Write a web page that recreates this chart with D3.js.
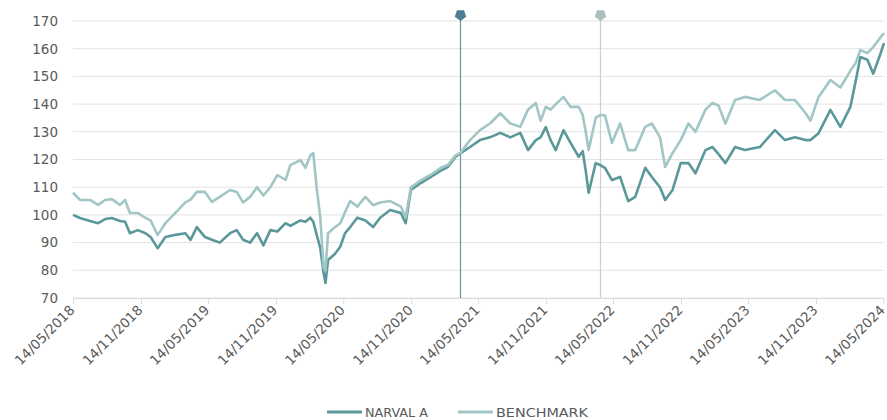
<!DOCTYPE html>
<html>
<head>
<meta charset="utf-8">
<script src="https://cdn.jsdelivr.net/npm/d3@7"></script>
<style>
  body { margin: 0; background: #fff; }
  svg { display: block; }
  .tick-label { font-family: "DejaVu Sans", Verdana, sans-serif; font-size: 13.5px; fill: #5a5a5a; }
  .legend-label { font-family: "DejaVu Sans", Verdana, sans-serif; font-size: 13px; fill: #5a5a5a; }
</style>
</head>
<body>
<svg width="887" height="420"></svg>
<script>
// Dates (roughly monthly, with extra points at turns)
const dates = [
  "2018-05-14","2018-06-02","2018-06-29","2018-07-21","2018-08-09","2018-08-27","2018-09-18","2018-10-02",
  "2018-10-15","2018-11-05","2018-11-26","2018-12-10","2018-12-29","2019-01-19","2019-02-15","2019-03-14",
  "2019-03-28","2019-04-14","2019-05-06","2019-05-25","2019-06-15","2019-07-13","2019-07-31","2019-08-17",
  "2019-09-05","2019-09-24","2019-10-11","2019-10-30","2019-11-18","2019-12-10","2019-12-23","2020-01-19",
  "2020-02-02","2020-02-15","2020-02-23","2020-03-03","2020-03-13","2020-03-22","2020-03-27","2020-04-03",
  "2020-04-22","2020-05-06","2020-05-19","2020-06-02","2020-06-21","2020-07-13","2020-08-03","2020-08-22",
  "2020-09-18","2020-10-17","2020-10-30","2020-11-13","2020-12-10","2021-01-06","2021-02-02","2021-02-21",
  "2021-03-14","2021-03-28","2021-04-22","2021-05-19","2021-06-15","2021-07-13","2021-08-09","2021-09-05",
  "2021-09-26","2021-10-17","2021-10-30","2021-11-13","2021-11-26","2021-12-10","2021-12-31","2022-01-19",
  "2022-02-10","2022-02-21","2022-03-01","2022-03-09","2022-03-28","2022-04-09","2022-04-22","2022-05-11",
  "2022-06-02","2022-06-24","2022-07-13","2022-08-09","2022-08-27","2022-09-18","2022-10-02","2022-10-22",
  "2022-11-13","2022-12-04","2022-12-23","2023-01-19","2023-02-07","2023-02-23","2023-03-14","2023-04-09",
  "2023-05-06","2023-06-15","2023-07-26","2023-08-22","2023-09-18","2023-10-17","2023-10-30","2023-11-21",
  "2023-12-23","2024-01-19","2024-02-15","2024-03-01","2024-03-13","2024-04-01","2024-04-17","2024-05-06",
  "2024-05-16"
];

const narvalA = [
  100, 98.9, 97.8, 97, 98.5, 98.9, 97.8, 97.5,
  93.4, 94.5, 93.4, 92, 88, 92, 92.8, 93.4,
  91, 95.6, 92, 91, 90, 93.4, 94.5, 91,
  90, 93.4, 89, 94.5, 94, 97, 96, 98,
  97.5, 99, 97.5, 93, 88, 79, 75.4, 83.7,
  86, 88.5, 93.4, 95.6, 99, 98, 95.6, 99,
  101.8, 100.7, 97, 109, 111.5, 113.7, 116, 117.3,
  121, 122.3, 124.5, 127, 128, 129.6, 128, 129.6,
  123.4, 127, 128, 131.7, 127, 123.4, 130.6, 126,
  121, 123, 116, 108, 118.7, 118, 117, 112.6,
  113.7, 105, 106.5, 117, 113.7, 110, 105.4, 109,
  118.7, 118.7, 115, 123.4, 124.5, 122, 118.7, 124.5,
  123.4, 124.5, 130.6, 127, 128, 127, 127, 129.5,
  137.9, 131.8, 139, 148.7, 157, 156, 151, 158,
  162
];

const benchmark = [
  108, 105.4, 105.4, 103.6, 105.4, 105.7, 103.6, 105.4,
  100.7, 100.7, 98.9, 98, 92.7, 97, 100.7, 104.5,
  105.5, 108.3, 108.3, 104.7, 106.5, 109, 108.3, 104.5,
  106.5, 110, 107, 110, 114.4, 112.6, 118, 119.8,
  117, 121.5, 122.3, 110, 99, 81, 80, 93.4,
  95.6, 97, 101, 105, 103, 106.5, 103.5, 104.5,
  105, 103, 99, 110, 112.5, 114.5, 117, 118,
  121.5, 122.5, 127, 130.6, 133, 136.7, 133, 131.8,
  138, 140.4, 134, 139, 138, 140, 142.6, 139,
  139, 136, 130, 123.4, 135, 136, 136, 126,
  133, 123.4, 123.4, 131.8, 133, 128, 117.3, 122.3,
  127, 133, 130, 138, 140.4, 139.5, 133, 141.5,
  142.6, 141.5, 145, 141.5, 141.5, 136.7, 134, 142.6,
  148.7, 146, 152, 155, 159.5, 158.4, 160.6, 164,
  165.6
];

const yTicks = [70, 80, 90, 100, 110, 120, 130, 140, 150, 160, 170];

const tickLabels = [
  "14/05/2018","14/11/2018","14/05/2019","14/11/2019","14/05/2020","14/11/2020","14/05/2021",
  "14/11/2021","14/05/2022","14/11/2022","14/05/2023","14/11/2023","14/05/2024"
];

// Vertical event markers
const eventDates = ["2021-03-26", "2022-04-10"];
const eventColors = ["#4f7d96", "#a9bfbf"];
const eventLineColors = ["#6f8f9c", "#c3d3d3"];

const seriesNames = ["NARVAL A", "BENCHMARK"];
const seriesColors = ["#5b9899", "#a2c6c6"];

const parseDate = d3.timeParse("%Y-%m-%d");
const parseTick = d3.timeParse("%d/%m/%Y");
const formatTick = d3.timeFormat("%d/%m/%Y");

const svg = d3.select("svg");
const margin = { top: 21, right: 3, bottom: 122, left: 73 };
const width = 887, height = 420;

const x = d3.scaleTime()
    .domain([parseDate(dates[0]), parseDate(dates[dates.length - 1])])
    .range([margin.left, width - margin.right]);

const y = d3.scaleLinear()
    .domain([70, 170])
    .range([height - margin.bottom, margin.top]);

// Horizontal grid lines
svg.append("g")
    .selectAll("line")
    .data(yTicks)
    .enter().append("line")
    .attr("x1", margin.left)
    .attr("x2", width - margin.right)
    .attr("y1", d => y(d))
    .attr("y2", d => y(d))
    .attr("stroke", "#e3e3e3")
    .attr("stroke-width", 1);

// Y axis labels
const yAxis = svg.append("g")
    .attr("transform", `translate(${margin.left},0)`)
    .call(d3.axisLeft(y).tickValues(yTicks).tickSize(0).tickPadding(15));
yAxis.select(".domain").remove();
yAxis.selectAll("text").attr("class", "tick-label");

// X axis
const xAxis = svg.append("g")
    .attr("transform", `translate(0,${y(70)})`)
    .call(d3.axisBottom(x)
        .tickValues(tickLabels.map(parseTick))
        .tickFormat(formatTick)
        .tickSize(6));
xAxis.select(".domain")
    .attr("stroke", "#dcdcdc")
    .attr("d", `M${margin.left},0.5H${width - margin.right}`);
xAxis.selectAll(".tick line").attr("stroke", "#dcdcdc");
xAxis.selectAll(".tick text")
    .attr("class", "tick-label")
    .attr("text-anchor", "end")
    .attr("dy", null)
    .attr("y", 0)
    .attr("transform", "translate(2,13) rotate(-45)");

// Event lines and markers
const pentagon = r => {
    const pts = d3.range(5).map(i => {
        const a = -Math.PI / 2 + i * 2 * Math.PI / 5;
        return [r * Math.cos(a), r * Math.sin(a)];
    });
    return d3.line()(pts) + "Z";
};

eventDates.forEach((d, i) => {
    const ex = Math.round(x(parseDate(d))) + 0.5;
    svg.append("line")
        .attr("x1", ex).attr("x2", ex)
        .attr("y1", 15).attr("y2", y(70))
        .attr("stroke", eventLineColors[i])
        .attr("stroke-width", 1.2);
    svg.append("path")
        .attr("d", pentagon(6))
        .attr("transform", `translate(${ex},15) rotate(36)`)
        .attr("fill", eventColors[i]);
});

// Series lines
const line = d3.line()
    .x(d => x(d.date))
    .y(d => y(d.value));

[narvalA, benchmark].forEach((values, i) => {
    const pts = values.map((v, j) => ({ date: parseDate(dates[j]), value: v }));
    svg.append("path")
        .datum(pts)
        .attr("fill", "none")
        .attr("stroke", seriesColors[i])
        .attr("stroke-width", 2.6)
        .attr("stroke-linejoin", "round")
        .attr("d", line);
});

// Legend
const legendItems = [
    { name: seriesNames[0], color: seriesColors[0], x: 327, w: 63 },
    { name: seriesNames[1], color: seriesColors[1], x: 458, w: 92 }
];
const legend = svg.append("g").attr("transform", "translate(0,412)");
legendItems.forEach(item => {
    legend.append("line")
        .attr("x1", item.x).attr("x2", item.x + 35)
        .attr("y1", 0).attr("y2", 0)
        .attr("stroke", item.color)
        .attr("stroke-width", 3);
    legend.append("text")
        .attr("class", "legend-label")
        .attr("x", item.x + 38)
        .attr("y", 5)
        .attr("textLength", item.w)
        .attr("lengthAdjust", "spacingAndGlyphs")
        .text(item.name);
});
</script>
</body>
</html>
